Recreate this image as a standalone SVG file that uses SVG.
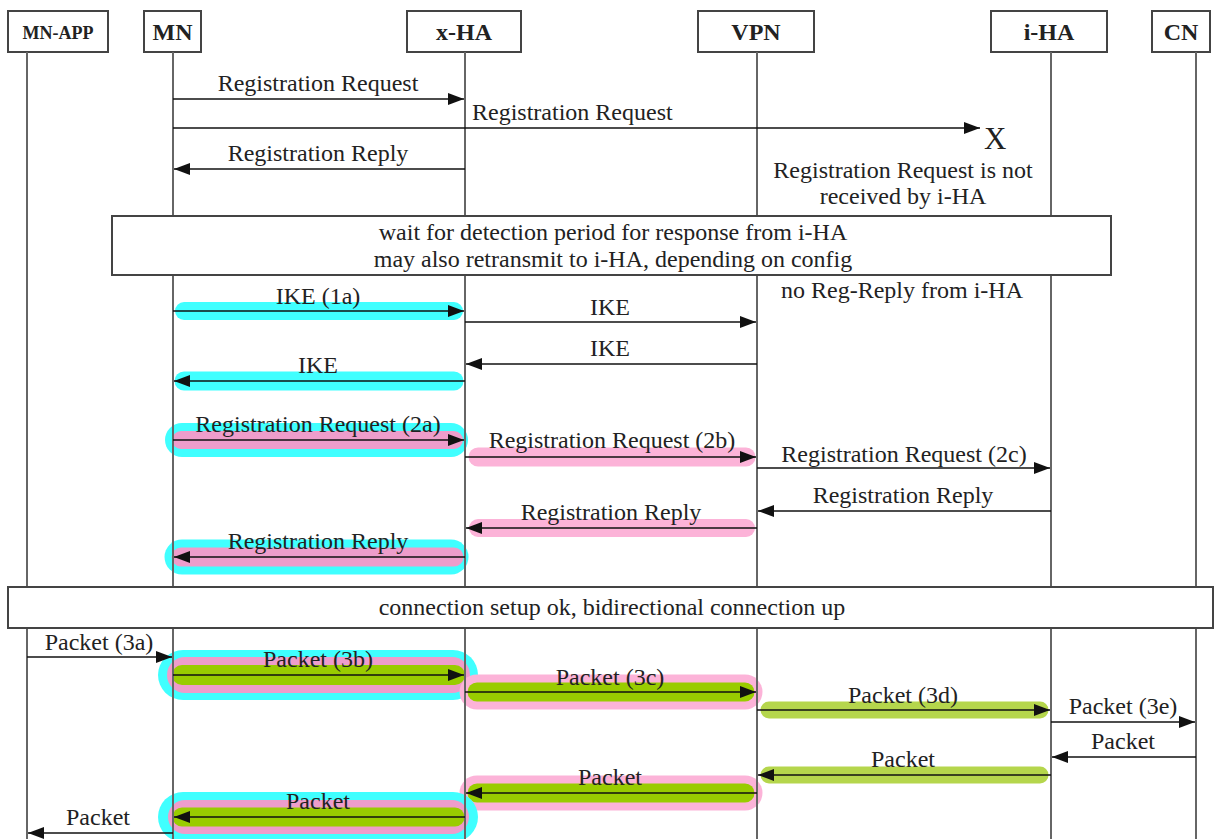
<svg xmlns="http://www.w3.org/2000/svg" width="1215" height="839" viewBox="0 0 1215 839">
<style>
text{font-family:"Liberation Serif","Times New Roman",serif;fill:#222;}
.lbl{font-size:24px;text-anchor:middle;}
.lbls{font-size:24px;text-anchor:start;}
.hdr{font-size:24px;font-weight:bold;text-anchor:middle;}
.box{fill:#fff;stroke:#444;stroke-width:2;}
.life{stroke:#666;stroke-width:2;fill:none;}
.msg{stroke:#111;stroke-width:1.6;fill:none;marker-end:url(#ah);}
.hl{fill:none;stroke-linecap:round;}
.cy{stroke:#40FFFF;}
.pk{stroke:#EE9DCB;}
.pkl{stroke:#FCB3D8;}
.gd{stroke:#99CC00;}
.gl{stroke:#B5D64C;}
</style>
<defs>
<marker id="ah" markerUnits="userSpaceOnUse" markerWidth="17" markerHeight="12" refX="16" refY="6" orient="auto">
<path d="M0,0 L16,6 L0,12 z" fill="#111"/>
</marker>
</defs>
<rect x="0" y="0" width="1215" height="839" fill="#fff"/>

<g id="highlights">
<line class="hl cy" x1="184" y1="311" x2="454" y2="311" stroke-width="18"/>
<line class="hl cy" x1="184" y1="381" x2="454" y2="381" stroke-width="19"/>
<line class="hl cy" x1="182" y1="440" x2="451" y2="440" stroke-width="34"/>
<line class="hl pk" x1="181" y1="440" x2="454" y2="440" stroke-width="18"/>
<line class="hl pkl" x1="478" y1="457" x2="746" y2="457" stroke-width="19"/>
<line class="hl pkl" x1="478" y1="528" x2="746" y2="528" stroke-width="18"/>
<line class="hl cy" x1="182" y1="557" x2="451" y2="557" stroke-width="35"/>
<line class="hl pk" x1="181" y1="557" x2="454" y2="557" stroke-width="19"/>
<line class="hl cy" x1="183" y1="675" x2="453" y2="675" stroke-width="50"/>
<line class="hl pk" x1="185" y1="675" x2="452" y2="675" stroke-width="36"/>
<line class="hl gd" x1="182" y1="675" x2="455" y2="675" stroke-width="20"/>
<line class="hl pkl" x1="477" y1="692" x2="745" y2="692" stroke-width="35"/>
<line class="hl gd" x1="477" y1="692" x2="745" y2="692" stroke-width="19"/>
<line class="hl gl" x1="769" y1="710" x2="1040" y2="710" stroke-width="17"/>
<line class="hl gl" x1="769" y1="775" x2="1040" y2="775" stroke-width="17"/>
<line class="hl pkl" x1="477" y1="793" x2="745" y2="793" stroke-width="35"/>
<line class="hl gd" x1="477" y1="793" x2="745" y2="793" stroke-width="19"/>
<line class="hl cy" x1="183" y1="817" x2="453" y2="817" stroke-width="50"/>
<line class="hl pk" x1="185" y1="817" x2="452" y2="817" stroke-width="34"/>
<line class="hl gd" x1="182" y1="817" x2="455" y2="817" stroke-width="19"/>
</g>

<g id="node-mn-app">
<rect class="box" x="8" y="11" width="100" height="41"/>
<text class="hdr" x="58" y="39" style="font-size:18px">MN-APP</text>
<line class="life" x1="27" y1="52" x2="27" y2="839"/>
</g>
<g id="node-mn">
<rect class="box" x="144" y="11" width="57" height="41"/>
<text class="hdr" x="172.5" y="40">MN</text>
<line class="life" x1="173" y1="52" x2="173" y2="839"/>
</g>
<g id="node-xha">
<rect class="box" x="407" y="11" width="114" height="41"/>
<text class="hdr" x="464" y="40">x-HA</text>
<line class="life" x1="465" y1="52" x2="465" y2="839"/>
</g>
<g id="node-vpn">
<rect class="box" x="698" y="11" width="116" height="41"/>
<text class="hdr" x="756" y="40">VPN</text>
<line class="life" x1="757" y1="52" x2="757" y2="839"/>
</g>
<g id="node-iha">
<rect class="box" x="991" y="11" width="116" height="41"/>
<text class="hdr" x="1049" y="40">i-HA</text>
<line class="life" x1="1051" y1="52" x2="1051" y2="839"/>
</g>
<g id="node-cn">
<rect class="box" x="1152" y="11" width="58" height="41"/>
<text class="hdr" x="1181" y="40">CN</text>
<line class="life" x1="1196" y1="52" x2="1196" y2="839"/>
</g>

<g id="note-wait">
<rect class="box" x="112" y="216" width="999" height="59"/>
<text class="lbl" x="613" y="240">wait for detection period for response from i-HA</text>
<text class="lbl" x="613" y="267">may also retransmit to i-HA, depending on config</text>
</g>
<g id="note-setup">
<rect class="box" x="8" y="587" width="1205" height="41"/>
<text class="lbl" x="612" y="615">connection setup ok, bidirectional connection up</text>
</g>

<g id="connectors">
<line class="msg" x1="173" y1="99" x2="464" y2="99"/>
<line class="msg" x1="173" y1="128" x2="980" y2="128"/>
<line class="msg" x1="465" y1="169" x2="174" y2="169"/>
<line class="msg" x1="173" y1="311" x2="464" y2="311"/>
<line class="msg" x1="465" y1="322" x2="756" y2="322"/>
<line class="msg" x1="757" y1="364" x2="466" y2="364"/>
<line class="msg" x1="465" y1="381" x2="174" y2="381"/>
<line class="msg" x1="173" y1="440" x2="464" y2="440"/>
<line class="msg" x1="465" y1="457" x2="756" y2="457"/>
<line class="msg" x1="757" y1="468" x2="1050" y2="468"/>
<line class="msg" x1="1051" y1="511" x2="758" y2="511"/>
<line class="msg" x1="757" y1="528" x2="466" y2="528"/>
<line class="msg" x1="465" y1="557" x2="174" y2="557"/>
<line class="msg" x1="27" y1="657" x2="172" y2="657"/>
<line class="msg" x1="173" y1="675" x2="464" y2="675"/>
<line class="msg" x1="465" y1="692" x2="756" y2="692"/>
<line class="msg" x1="757" y1="710" x2="1050" y2="710"/>
<line class="msg" x1="1051" y1="722" x2="1195" y2="722"/>
<line class="msg" x1="1196" y1="757" x2="1052" y2="757"/>
<line class="msg" x1="1051" y1="775" x2="758" y2="775"/>
<line class="msg" x1="757" y1="793" x2="466" y2="793"/>
<line class="msg" x1="465" y1="817" x2="174" y2="817"/>
<line class="msg" x1="173" y1="833" x2="28" y2="833"/>
</g>

<g id="labels">
<text class="lbl" x="318" y="91">Registration Request</text>
<text class="lbls" x="472" y="120">Registration Request</text>
<text class="lbls" x="984" y="149" style="font-size:31px">X</text>
<text class="lbl" x="318" y="161">Registration Reply</text>
<text class="lbl" x="903" y="178">Registration Request is not</text>
<text class="lbl" x="903" y="204">received by i-HA</text>
<text class="lbl" x="902" y="298">no Reg-Reply from i-HA</text>
<text class="lbl" x="318" y="304">IKE (1a)</text>
<text class="lbl" x="610" y="315">IKE</text>
<text class="lbl" x="610" y="356">IKE</text>
<text class="lbl" x="318" y="373">IKE</text>
<text class="lbl" x="318" y="432">Registration Request (2a)</text>
<text class="lbl" x="612" y="448">Registration Request (2b)</text>
<text class="lbl" x="904" y="462">Registration Request (2c)</text>
<text class="lbl" x="903" y="503">Registration Reply</text>
<text class="lbl" x="611" y="520">Registration Reply</text>
<text class="lbl" x="318" y="549">Registration Reply</text>
<text class="lbl" x="99" y="650">Packet (3a)</text>
<text class="lbl" x="318" y="667">Packet (3b)</text>
<text class="lbl" x="610" y="685">Packet (3c)</text>
<text class="lbl" x="903" y="703">Packet (3d)</text>
<text class="lbl" x="1123" y="714">Packet (3e)</text>
<text class="lbl" x="1123" y="749">Packet</text>
<text class="lbl" x="903" y="767">Packet</text>
<text class="lbl" x="610" y="785">Packet</text>
<text class="lbl" x="318" y="809">Packet</text>
<text class="lbl" x="98" y="825">Packet</text>
</g>
</svg>
